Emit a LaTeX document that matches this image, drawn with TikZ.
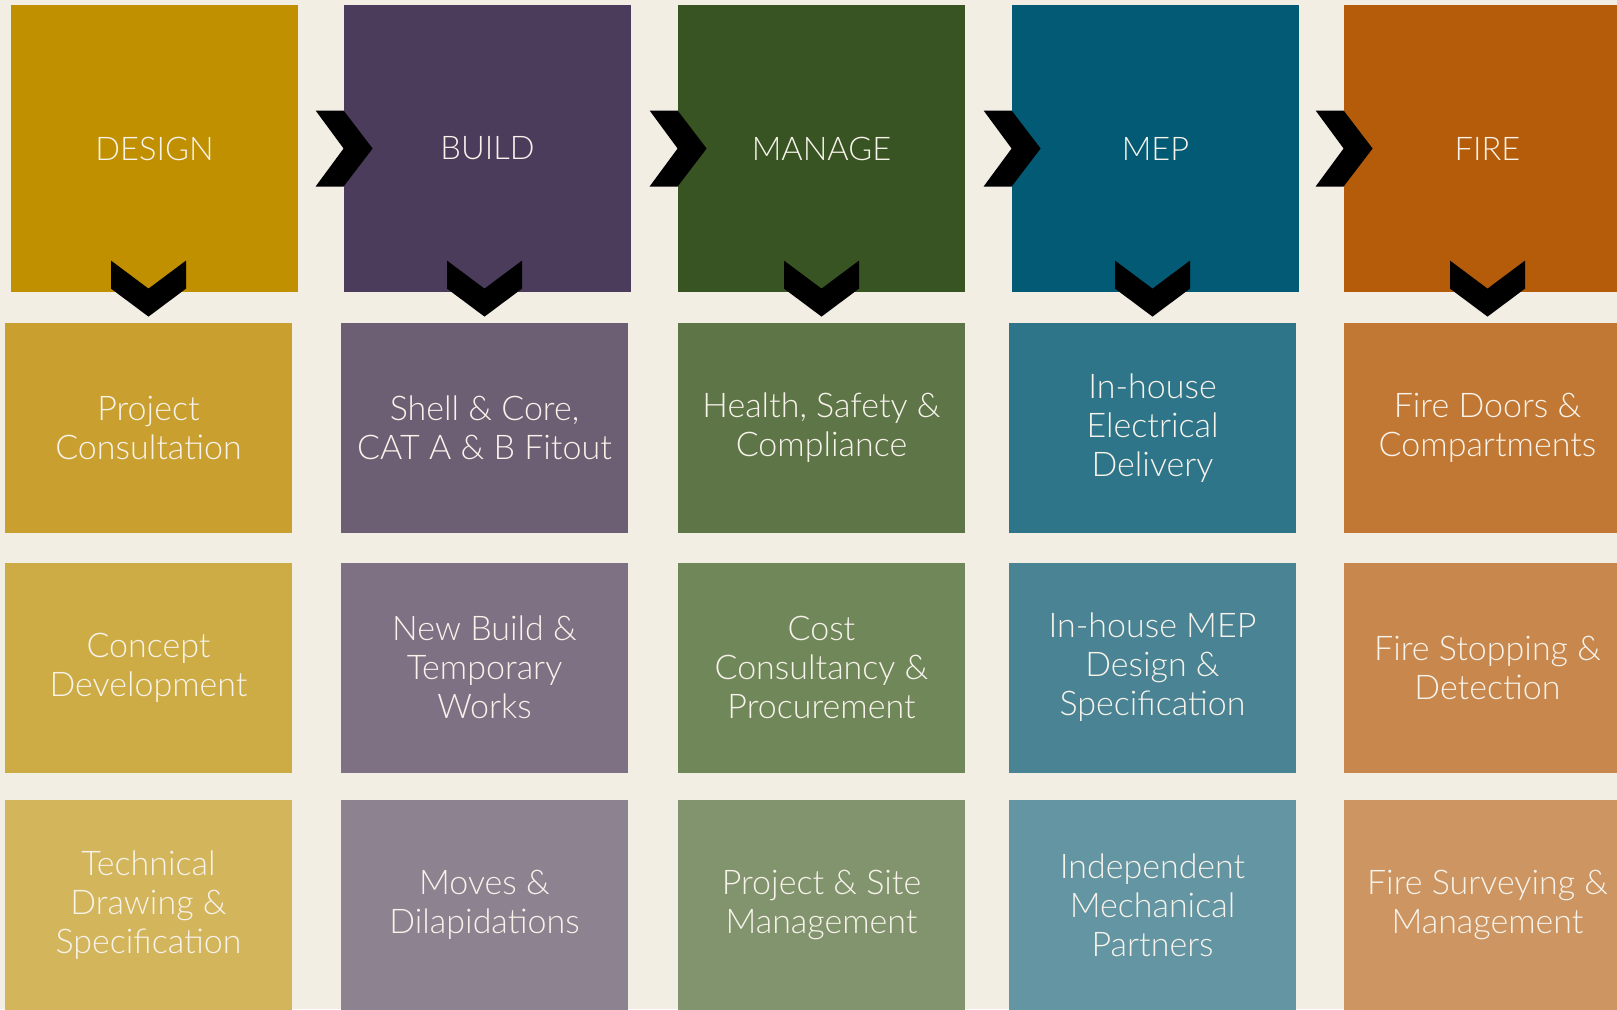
\documentclass[tikz,border=0pt]{standalone}
\usepackage{fontspec}
\setmainfont{Lato Light}

\definecolor{bg}{HTML}{F2EEE4}
\definecolor{txt}{HTML}{F7F3EB}
\definecolor{designc}{HTML}{C09000}
\definecolor{dA}{HTML}{C9A030}
\definecolor{dB}{HTML}{CDAC45}
\definecolor{dC}{HTML}{D3B55C}
\definecolor{buildc}{HTML}{4A3C5A}
\definecolor{bA}{HTML}{6C5F73}
\definecolor{bB}{HTML}{7E7184}
\definecolor{bC}{HTML}{8D8290}
\definecolor{managec}{HTML}{385423}
\definecolor{mA}{HTML}{5E7548}
\definecolor{mB}{HTML}{70875A}
\definecolor{mC}{HTML}{82946D}
\definecolor{mepc}{HTML}{025A74}
\definecolor{eA}{HTML}{2F7589}
\definecolor{eB}{HTML}{4A8494}
\definecolor{eC}{HTML}{6395A2}
\definecolor{firec}{HTML}{B55C0B}
\definecolor{fA}{HTML}{C17835}
\definecolor{fB}{HTML}{C8874D}
\definecolor{fC}{HTML}{CC9561}

\begin{document}
\begin{tikzpicture}[x=0.5pt,y=-0.5pt,
            head/.style={rectangle,inner sep=0pt,minimum width=143.5pt,minimum height=143.5pt,text=txt,font=\fontsize{16.3}{19}\selectfont},
            tile/.style={rectangle,inner sep=0pt,minimum width=143.5pt,minimum height=105pt,text=txt,align=center,font=\fontsize{17}{19.5}\selectfont},
            rchev/.pic={\fill[black] (-28,-38) -- (0,-38) -- (29,0) -- (0,38) -- (-28,38) -- (0,0) -- cycle;},
            dchev/.pic={\fill[black] (-37.5,-62) -- (0,-34) -- (37.5,-62) -- (37.5,-34) -- (0,-6) -- (-37.5,-34) -- cycle;}]
            \fill[bg] (0,0) rectangle (1617,1009);
            \useasboundingbox (0,0) rectangle (1617,1009);

            \node (design) at (154.5,148.5) [head,fill=designc] {DESIGN};
            \node (build) at (487.5,148.5) [head,fill=buildc] {BUILD};
            \node (manage) at (821.5,148.5) [head,fill=managec] {MANAGE};
            \node (mep) at (1155.5,148.5) [head,fill=mepc] {MEP};
            \node (fire) at (1487.5,148.5) [head,fill=firec] {FIRE};

            \node (d1) at (148.5,428) [tile,fill=dA] {Project\\Consultation};
            \node (d2) at (148.5,667.5) [tile,fill=dB] {Concept\\Development};
            \node (d3) at (148.5,905) [tile,fill=dC] {Technical\\Drawing \&\\Specification};

            \node (b1) at (484.5,428) [tile,fill=bA] {Shell \& Core,\\CAT A \& B Fitout};
            \node (b2) at (484.5,667.5) [tile,fill=bB] {New Build \&\\Temporary\\Works};
            \node (b3) at (484.5,905) [tile,fill=bC] {Moves \&\\Dilapidations};

            \node (m1) at (821.5,428) [tile,fill=mA] {Health, Safety \&\\Compliance};
            \node (m2) at (821.5,667.5) [tile,fill=mB] {Cost\\Consultancy \&\\Procurement};
            \node (m3) at (821.5,905) [tile,fill=mC] {Project \& Site\\Management};

            \node (e1) at (1152.5,428) [tile,fill=eA] {In-house\\Electrical\\Delivery};
            \node (e2) at (1152.5,667.5) [tile,fill=eB] {In-house MEP\\Design \&\\Specification};
            \node (e3) at (1152.5,905) [tile,fill=eC] {Independent\\Mechanical\\Partners};

            \node (f1) at (1487.5,428) [tile,fill=fA] {Fire Doors \&\\Compartments};
            \node (f2) at (1487.5,667.5) [tile,fill=fB] {Fire Stopping \&\\Detection};
            \node (f3) at (1487.5,905) [tile,fill=fC] {Fire Surveying \&\\Management};

            \pic at (build.west) {rchev};
            \pic at (manage.west) {rchev};
            \pic at (mep.west) {rchev};
            \pic at (fire.west) {rchev};

            \pic at (d1.north) {dchev};
            \pic at (b1.north) {dchev};
            \pic at (m1.north) {dchev};
            \pic at (e1.north) {dchev};
            \pic at (f1.north) {dchev};
        \end{tikzpicture}
\end{document}
